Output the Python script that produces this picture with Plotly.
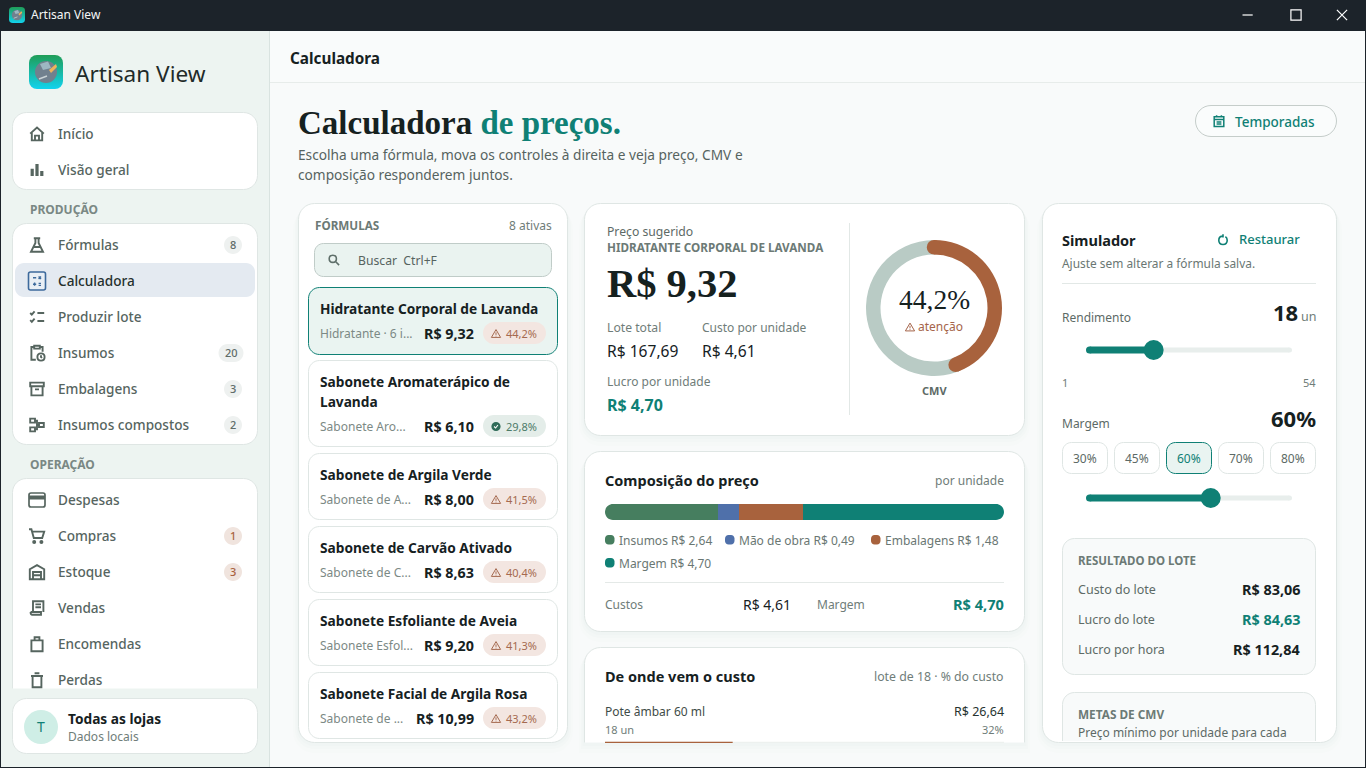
import base64, math, re
import plotly.graph_objects as go

# ---------- data ----------
cmv_value = 44.2
composition_labels = ["Insumos", "Mão de obra", "Embalagens", "Margem"]
composition_values = [2.64, 0.49, 1.48, 4.70]
composition_colors = ["#467e5f", "#4f70aa", "#a8623d", "#0f8075"]
rendimento_range = [1, 54]
rendimento_value = 18
margem_range = [0, 99]
margem_value = 60
margem_options = ["30%", "45%", "60%", "70%", "80%"]
cost_share = 32
nav_top = ["Início", "Visão geral"]
nav_producao = ["Fórmulas", "Calculadora", "Produzir lote", "Insumos", "Embalagens", "Insumos compostos"]
nav_producao_badges = ["8", "", "", "20", "3", "2"]
nav_operacao = ["Despesas", "Compras", "Estoque", "Vendas", "Encomendas", "Perdas"]
nav_operacao_badges = ["", "1", "3", "", "", ""]
formula_names = [["Hidratante Corporal de Lavanda"], ["Sabonete Aromaterápico de", "Lavanda"],
                 ["Sabonete de Argila Verde"], ["Sabonete de Carvão Ativado"],
                 ["Sabonete Esfoliante de Aveia"], ["Sabonete Facial de Argila Rosa"]]
formula_subs = ["Hidratante · 6 i...", "Sabonete Aro...", "Sabonete de A...", "Sabonete de C...", "Sabonete Esfol...", "Sabonete de ..."]
formula_prices = ["R$ 9,32", "R$ 6,10", "R$ 8,00", "R$ 8,63", "R$ 9,20", "R$ 10,99"]
formula_cmv = ["44,2%", "29,8%", "41,5%", "40,4%", "41,3%", "43,2%"]
result_labels = ["Custo do lote", "Lucro do lote", "Lucro por hora"]
result_values = ["R$ 83,06", "R$ 84,63", "R$ 112,84"]

# ---------- style ----------
W, H = 1366, 768
SANS = "Noto Sans"
SERIF = "Liberation Serif"
INK = "#16211f"
TEAL = "#0f8075"
BROWN = "#a8623d"
MUTED = "#6f7d79"
NAV = "#56655f"
BORDER = "#dfe6e4"
K = 0.552

shapes, annos = [], []


def corner(x, y, ex, ey, cx, cy):
    # cubic corner from the current point (x, y) to (ex, ey) around control corner (cx, cy)
    return (f"C{x + (cx - x) * K:.2f} {y + (cy - y) * K:.2f} {ex + (cx - ex) * K:.2f} {ey + (cy - ey) * K:.2f} {ex} {ey} ")


def rr_path(x0, y0, x1, y1, r, bottom=True):
    d = f"M{x0+r} {y0} L{x1-r} {y0} " + corner(x1 - r, y0, x1, y0 + r, x1, y0)
    if bottom:
        d += f"L{x1} {y1-r} " + corner(x1, y1 - r, x1 - r, y1, x1, y1)
        d += f"L{x0+r} {y1} " + corner(x0 + r, y1, x0, y1 - r, x0, y1)
    else:
        d += f"L{x1} {y1} L{x0} {y1} "
    d += f"L{x0} {y0+r} " + corner(x0, y0 + r, x0 + r, y0, x0, y0) + "Z"
    return d


def open_path(x0, y0, x1, y1, r):
    # outline of a box cut off at the bottom: no closing line
    return (f"M{x0} {y1} L{x0} {y0+r} " + corner(x0, y0 + r, x0 + r, y0, x0, y0) +
            f"L{x1-r} {y0} " + corner(x1 - r, y0, x1, y0 + r, x1, y0) + f"L{x1} {y1}")


def box(x0, y0, x1, y1, r=0, fill="white", line=None, lw=1, bottom=True):
    clear = "rgba(0,0,0,0)"
    if bottom or not line:
        shapes.append(dict(type="path", path=rr_path(x0, y0, x1, y1, r, bottom), xref="x", yref="y", layer="below",
                           fillcolor=fill, line=dict(color=line or clear, width=lw if line else 0)))
    else:
        shapes.append(dict(type="path", path=rr_path(x0, y0, x1, y1, r, False), xref="x", yref="y", layer="below",
                           fillcolor=fill, line=dict(color=clear, width=0)))
        shapes.append(dict(type="path", path=open_path(x0, y0, x1, y1, r), xref="x", yref="y", layer="below",
                           fillcolor=clear, line=dict(color=line, width=lw)))


def card(x0, y0, x1, y1, r=16, fill="white", bottom=True, shadow=True):
    if shadow:
        for g, a in ((10, 0.008), (6, 0.010), (3, 0.012)):
            box(x0 - g / 2, y0 + g / 2, x1 + g / 2, y1 + g, r + g / 2, f"rgba(40,70,60,{a})", bottom=bottom)
    box(x0 + .5, y0 + .5, x1 - .5, y1 - .5, r, fill, BORDER, 1, bottom)


def hline(x0, x1, y, color=BORDER, w=1):
    shapes.append(dict(type="line", x0=x0, x1=x1, y0=y, y1=y, xref="x", yref="y", layer="below", line=dict(color=color, width=w)))


def T(text, x, y, size=13, color=INK, anchor="left", weight=400, family=SANS):
    if family == SANS:
        y -= 0.7
    annos.append(dict(text=text, x=x, y=y, xref="x", yref="y", xanchor=anchor, yanchor="middle", showarrow=False,
                      borderpad=0, borderwidth=0, align=anchor,
                      font=dict(size=size, color=color, family=family, weight=weight)))


def icon(d, cx, cy, color=NAV, s=0.8, fill=None, lw=1.9):
    parts = re.findall(r"[MLQCZ]|-?\d+\.?\d*", d)
    out, xturn = [], True
    for p in parts:
        if p.isalpha():
            out.append(p)
            xturn = True
        else:
            v = float(p)
            out.append(f"{(cx + (v - 12) * s) if xturn else (cy + (v - 12) * s):.2f}")
            xturn = not xturn
    shapes.append(dict(type="path", path=" ".join(out), xref="x", yref="y", layer="below",
                       fillcolor=fill or "rgba(0,0,0,0)",
                       line=dict(color=color if lw else "rgba(0,0,0,0)", width=lw)))


def circ(cx, cy, r):
    return (f"M{cx-r} {cy} Q{cx-r} {cy-r} {cx} {cy-r} Q{cx+r} {cy-r} {cx+r} {cy} "
            f"Q{cx+r} {cy+r} {cx} {cy+r} Q{cx-r} {cy+r} {cx-r} {cy} Z ")


def disc(cx, cy, r, fill, layer="below"):
    shapes.append(dict(type="circle", x0=cx - r, x1=cx + r, y0=cy - r, y1=cy + r, xref="x", yref="y", layer=layer,
                       fillcolor=fill, line=dict(width=0)))


WARN = "M12 3.5 L22 20.5 L2 20.5 Z M12 9.5 L12 15 M12 16.8 L12 18.4"
ICONS = {
    "Início": "M3.5 11.5 L12 4 L20.5 11.5 M5.5 10 L5.5 20 L18.5 20 L18.5 10 M9.5 20 L9.5 14 L14.5 14 L14.5 20",
    "Fórmulas": "M8 3.5 L16 3.5 M10 3.5 L10 9.5 L4.5 20.5 L19.5 20.5 L14 9.5 L14 3.5 M8 14.5 L16 14.5",
    "Produzir lote": "M3.5 7 L5.5 9 L9 5 M12.5 7 L21 7 M3.5 16 L5.5 18 L9 14 M12.5 17 L21 17",
    "Insumos": "M8.5 4.5 L5 4.5 L5 20.5 L10.5 20.5 M15.5 4.5 L19 4.5 L19 10.5 M8.5 3 L15.5 3 L15.5 6.5 L8.5 6.5 Z " + circ(17, 17, 4.5) + "M17 14.8 L17 17 L18.5 18",
    "Embalagens": "M3.5 4 L20.5 4 L20.5 8.5 L3.5 8.5 Z M5 8.5 L5 20 L19 20 L19 8.5 M9.5 12.5 L14.5 12.5",
    "Insumos compostos": "M3.5 4 L9.5 4 L9.5 9 L3.5 9 Z M3.5 15 L9.5 15 L9.5 20 L3.5 20 Z M14.5 9.5 L20.5 9.5 L20.5 14.5 L14.5 14.5 Z M9.5 6.5 L12 6.5 L12 17.5 L9.5 17.5 M12 12 L14.5 12",
    "Compras": "M2 3.5 L5 3.5 L8 14.5 L18.5 14.5 L21 6.5 L6 6.5 " + circ(8.5, 19.5, 1.3) + circ(17.5, 19.5, 1.3),
    "Estoque": "M3 21 L3 8.5 L12 3.5 L21 8.5 L21 21 Z M7 21 L7 12 L17 12 L17 21 M7 16 L17 16",
    "Vendas": "M7 17 L7 3.5 L20 3.5 L20 17 M4 17 L17 17 L17 20.5 L6 20.5 Q4 20.5 4 17 M10 7.5 L17 7.5 M10 11 L17 11",
    "Encomendas": "M5 7.5 L19 7.5 L19 21 L5 21 Z M9 7.5 L9 3.5 L15 3.5 L15 7.5",
    "Perdas": "M6.5 7.5 L6.5 21 L17.5 21 L17.5 7.5 M4.5 7 L19.5 7 M9 3.5 L15 3.5",
}

# ---------- window chrome ----------
box(0, 0, W, 31, 0, "#1c232a")
box(0, 31, 270, H, 0, "#edf4f1")
box(270, 31, W, 82, 0, "#f9fbfb")
hline(270, W, 82.5, "#e7ecea")
shapes.append(dict(type="line", x0=269.5, x1=269.5, y0=31, y1=H, xref="x", yref="y", layer="below", line=dict(color="#d9e3e0", width=1)))
for a in [dict(x0=0, x1=1, y0=0, y1=H), dict(x0=W - 1, x1=W, y0=0, y1=H), dict(x0=0, x1=W, y0=H - 1, y1=H)]:
    shapes.append(dict(type="rect", xref="x", yref="y", layer="above", fillcolor="#1c232a", line=dict(width=0), **a))

T("Artisan View", 31, 15.5, 12, "#f4f6f6")
icon("M2 12 L14 12", 1251, 15, "#ffffff", 0.85, lw=1.2)
icon("M6 6 L18 6 L18 18 L6 18 Z", 1296, 15, "#ffffff", 0.85, lw=1.2)
icon("M6 6 L18 18 M18 6 L6 18", 1342, 15, "#ffffff", 0.85, lw=1.2)

# ---------- sidebar ----------
T("Artisan View", 75, 74, 22.6, "#1f2b29")
card(12, 112, 258, 190, 14, shadow=False)
for label, y in zip(nav_top, [134, 170]):
    T(label, 58, y, 13.6, NAV, weight=500)
icon(ICONS["Início"], 37, 134)
icon("M4 11 L8 11 L8 20 L4 20 Z M10 5 L14 5 L14 20 L10 20 Z M16 14 L20 14 L20 20 L16 20 Z", 37, 169.5, NAV, fill=NAV, lw=0)
T("PRODUÇÃO", 30, 210, 12, "#7a8884", weight=700)
card(12, 223, 258, 445, 14, shadow=False)
box(15, 263, 255, 297, 9, "#e4eaf1")
for i, (label, badge) in enumerate(zip(nav_producao, nav_producao_badges)):
    y = 245 + 36 * i
    T(label, 58, y, 13.6, "#24302d" if label == "Calculadora" else NAV, weight=500)
    if label in ICONS:
        icon(ICONS[label], 37, y)
    if badge:
        wide = len(badge) > 1
        half = 12.5 if wide else 9
        off = 2 if wide else 0
        box(233 - half - off, y - 9, 233 + half - off, y + 9, 9, "#eef1f0")
        T(badge, 233 - off, y, 11, "#5e6c68", "center", 500)
box(28.5, 272, 45.5, 290, 2, "#e9eff5", "#3d6a9c", 1.6)
icon("M7 8 L11 8 M14 6.5 L17 9.5 M17 6.5 L14 9.5 M7 16 L11 16 M9 14 L9 18 M14 15 L17 15 M14 17.5 L17 17.5", 37, 281, "#3d6a9c", 0.8, lw=1.4)
T("OPERAÇÃO", 30, 465, 12, "#7a8884", weight=700)
card(12, 478, 258, 689, 14, bottom=False, shadow=False)
for i, (label, badge) in enumerate(zip(nav_operacao, nav_operacao_badges)):
    y = 500 + 36 * i
    T(label, 58, y, 13.6, NAV, weight=500)
    if label in ICONS:
        icon(ICONS[label], 37, y)
    if badge:
        box(224, y - 9, 242, y + 9, 9, "#f0e4de")
        T(badge, 233, y, 11, BROWN, "center", 500)
box(29, 493, 45, 507, 2, "rgba(0,0,0,0)", NAV, 1.7)
box(29, 495.5, 45, 499.5, 0, NAV)
card(12, 698, 258, 754, 14, shadow=False)
disc(41, 727, 17, "#cfeee6")
T("T", 41, 727.5, 14, TEAL, "center")
T("Todas as lojas", 68, 719, 13.7, INK, weight=700)
T("Dados locais", 68, 737, 12, MUTED)

# ---------- header ----------
T("Calculadora", 290, 58.5, 15.3, INK, weight=700)
T(f"Calculadora <span style='color:{TEAL}'>de preços.</span>", 298, 123, 33, INK, weight=700, family=SERIF)
T("Escolha uma fórmula, mova os controles à direita e veja preço, CMV e", 298, 155, 13.7, "#56635f")
T("composição responderem juntos.", 298, 175, 13.7, "#56635f")
box(1195.5, 105.5, 1336.5, 136.5, 15.5, "#fafcfc", "#c5cdca", 1)
icon("M4 5 L20 5 L20 21 L4 21 Z M4 9.5 L20 9.5 M8 2.5 L8 6 M16 2.5 L16 6 M8 13.5 L16 13.5 M8 17 L16 17", 1219, 121, TEAL, 0.6, lw=1.5)
T("Temporadas", 1235, 122.7, 13.5, TEAL, weight=500)

# ---------- formula list ----------
card(298, 203, 568, 743)
T("FÓRMULAS", 315, 226, 11.7, "#6c7a76", weight=700)
T("8 ativas", 552, 226, 12, MUTED, "right")
box(314.5, 243.5, 551.5, 276.5, 9, "#eaf3f0", "#c0ccc8", 1)
icon(circ(10, 10, 6) + "M14.5 14.5 L20.5 20.5", 334, 260, "#5f6f6a", 0.6, lw=1.6)
T("Buscar  Ctrl+F", 358, 261, 12.2, "#56635f")
tops = [287, 360, 453, 526, 599, 672]
bottoms = [355, 447, 520, 593, 666, 739]
pill_y = [333, 426, 499, 572, 645, 718]
for i, (names, sub, price, cmv) in enumerate(zip(formula_names, formula_subs, formula_prices, formula_cmv)):
    t, b = tops[i], bottoms[i]
    sel = i == 0
    box(308.5, t + .5, 557.5, b - .5, 11, "#eaf4f1" if sel else "white", TEAL if sel else BORDER, 1)
    for k, nm in enumerate(names):
        T(nm, 320, t + 22 + 20 * k, 13.7, INK, weight=700)
    sy = pill_y[i]
    T(sub, 320, sy + 1, 12, "#7c8985")
    T(price, 474, sy + 1, 14.3, INK, "right", 700)
    ok = float(cmv.replace(",", ".").rstrip("%")) < 35
    box(483, sy - 11, 546, sy + 11, 11, "#e4ede9" if ok else "#f3e6e1")
    if ok:
        disc(496, sy + .5, 4.6, "#2f6b58")
        icon("M7 12 L11 16 L17 8", 496, sy + .5, "white", 0.38, lw=1.1)
    else:
        icon(WARN, 496, sy + .5, "#a56a50", 0.46, lw=1)
    T(cmv, 506, sy + 1.2, 11, "#4d7a68" if ok else "#a56a50")

# ---------- price card ----------
card(584, 203, 1025, 436)
T("Preço sugerido", 607, 232, 12.2, "#5d6a66")
T("HIDRATANTE CORPORAL DE LAVANDA", 607, 248, 11.7, "#6c7a76", weight=700)
T("R$ 9,32", 607, 283, 40.5, INK, weight=700, family=SERIF)
T("Lote total", 607, 328, 12.2, MUTED)
T("Custo por unidade", 702, 328, 12, MUTED)
T("R$ 167,69", 607, 351.7, 15.6, INK)
T("R$ 4,61", 702, 351.7, 15.6, INK)
T("Lucro por unidade", 607, 382, 12, MUTED)
T("R$ 4,70", 607, 405.7, 16, TEAL, weight=700)
shapes.append(dict(type="line", x0=849.5, x1=849.5, y0=223, y1=415, xref="x", yref="y", layer="below", line=dict(color="#e2e8e6", width=1)))
T("44,2%", 934, 299.4, 27.5, INK, "center", family=SERIF)
icon(WARN, 910, 327, "#a5644a", 0.46, lw=1)
T("atenção", 918, 327.5, 12, "#a5644a")
T("CMV", 934, 391, 11, "#5d6a66", "center", 700)

DCX, DCY, DR, DI = 934, 308, 68, 53.5
for ang in (0, cmv_value * 3.6):
    rad = math.radians(ang)
    rm = (DR + DI) / 2
    disc(DCX + rm * math.sin(rad), DCY - rm * math.cos(rad), (DR - DI) / 2, BROWN, "above")

# ---------- composition card ----------
card(584, 451, 1025, 632)
T("Composição do preço", 605, 481, 14.5, INK, weight=700)
T("por unidade", 1004, 481, 12, MUTED, "right")
dot_pos = [(610, 540), (730, 540), (876, 540), (610, 563)]
for lab, val, col, (dx, dy) in zip(composition_labels, composition_values, composition_colors, dot_pos):
    box(dx - 5, dy - 5, dx + 4.5, dy + 4.5, 3.5, col)
    T(f"{lab} R$ {val:.2f}".replace(".", ","), dx + 9, dy + 1, 12, "#6a7773")
# white corner pieces round off the composition bar
for x, xi, y, yi in ((605, 613, 504, 512), (1004, 996, 504, 512), (605, 613, 520, 512), (1004, 996, 520, 512)):
    shapes.append(dict(type="path", xref="x", yref="y", layer="above", fillcolor="white", line=dict(width=0),
                       path=f"M{x} {y} L{xi} {y} " + corner(xi, y, x, yi, x, y) + "Z"))
hline(605, 1004, 582.5, "#e4e9e7")
T("Custos", 605, 605, 12, MUTED)
T("R$ 4,61", 791, 605, 14, INK, "right")
T("Margem", 817, 605, 12, MUTED)
T("R$ 4,70", 1004, 605, 14.6, TEAL, "right", 700)

# ---------- cost card ----------
card(584, 647, 1025, 743, bottom=False)
T("De onde vem o custo", 605, 677, 14.5, INK, weight=700)
T("lote de 18 · % do custo", 1004, 677, 12.3, MUTED, "right")
T("Pote âmbar 60 ml", 605, 712, 12, "#3f4c48")
T("R$ 26,64", 1004, 712, 12.5, "#26332f", "right")
T("18 un", 605, 730.5, 11, MUTED)
T("32%", 1004, 730.5, 11, MUTED, "right")

# ---------- simulator ----------
card(1042, 203, 1337, 743)
T("Simulador", 1062, 241, 14.5, INK, weight=700)
icon("M12 5.5 Q5 5.5 5 12.5 Q5 19.5 12 19.5 Q19 19.5 19 12.5 Q19 8.5 16 6.5 M12 2.5 L12 8", 1223, 240, TEAL, 0.6, lw=1.6)
T("Restaurar", 1239, 240, 13, TEAL, weight=500)
T("Ajuste sem alterar a fórmula salva.", 1062, 264, 11.9, "#6a7773")
hline(1062, 1316, 283.5, "#e2e8e6")
T("Rendimento", 1062, 317.7, 12, "#5d6a66")
T(str(rendimento_value), 1298, 313, 22, INK, "right", 700)
T("un", 1316, 317, 12.5, MUTED, "right")
T(str(rendimento_range[0]), 1062, 383, 11, MUTED)
T(str(rendimento_range[1]), 1316, 383, 11, MUTED, "right")
T("Margem", 1062, 423.7, 12, "#5d6a66")
T(f"{margem_value}%", 1316, 419, 22, INK, "right", 700)
for i, opt in enumerate(margem_options):
    x0 = 1062 + 52 * i
    sel = opt == f"{margem_value}%"
    box(x0 + .5, 442.5, x0 + 45.5, 473.5, 9, "#e9f4f1" if sel else "white", TEAL if sel else BORDER, 1)
    T(opt, x0 + 23, 459.2, 12, TEAL if sel else "#5d6a66", "center")
box(1062.5, 538.5, 1315.5, 674.5, 12, "#f8fafa", BORDER, 1)
T("RESULTADO DO LOTE", 1078, 561, 11.5, "#6c7a76", weight=700)
for i, (lab, val) in enumerate(zip(result_labels, result_values)):
    y = 590 + 30 * i
    T(lab, 1078, y, 12.5, "#5d6a66")
    T(val, 1300, y, 14.4, TEAL if i == 1 else INK, "right", 700)
box(1062.5, 692.5, 1315.5, 741, 12, "#f8fafa", BORDER, 1, bottom=False)
T("METAS DE CMV", 1078, 715, 11.8, "#6c7a76", weight=700)
T("Preço mínimo por unidade para cada", 1078, 733, 12, "#5d6a66")


# ---------- axes and traces ----------
def dom_x(a, b):
    return [a / W, b / W]


def dom_y(a, b):
    return [1 - b / H, 1 - a / H]


def hidden(**k):
    return dict(visible=False, fixedrange=True, showgrid=False, zeroline=False, **k)


fig = go.Figure()
# pixel-space canvas holding the chrome, cards and labels
fig.add_trace(go.Scatter(x=[0], y=[0], mode="markers", marker=dict(opacity=0), showlegend=False, hoverinfo="skip"))

# stacked composition bar
for lab, val, col in zip(composition_labels, composition_values, composition_colors):
    fig.add_trace(go.Bar(x=[val], y=[0], orientation="h", width=1, name=lab, marker=dict(color=col, line=dict(width=0)),
                         xaxis="x2", yaxis="y2", showlegend=False))


def slider(rng, val, xa, ya):
    fig.add_trace(go.Scatter(x=rng, y=[0, 0], mode="lines+markers", line=dict(color="#e8eeec", width=5),
                             marker=dict(color="#e8eeec", size=5, opacity=1), xaxis=xa, yaxis=ya, showlegend=False, cliponaxis=False))
    fig.add_trace(go.Scatter(x=[rng[0], val], y=[0, 0], mode="lines+markers", line=dict(color=TEAL, width=7),
                             marker=dict(color=TEAL, size=[7, 20], opacity=1, line=dict(width=0)), xaxis=xa, yaxis=ya,
                             showlegend=False, cliponaxis=False))


slider(rendimento_range, rendimento_value, "x3", "y3")
slider(margem_range, margem_value, "x4", "y4")

# cut-off progress bar of the first cost row
fig.add_trace(go.Scatter(x=[0, 100], y=[0, 0], mode="lines", line=dict(color="#edf1ef", width=1.3), xaxis="x5", yaxis="y5",
                         showlegend=False, cliponaxis=False))
fig.add_trace(go.Scatter(x=[0, cost_share], y=[0, 0], mode="lines", line=dict(color=BROWN, width=1.3), xaxis="x5", yaxis="y5",
                         showlegend=False, cliponaxis=False))

# CMV donut
fig.add_trace(go.Pie(values=[cmv_value, 100 - cmv_value], labels=["CMV", "Restante"], sort=False, direction="clockwise", rotation=0,
                     hole=DI / DR, textinfo="none", showlegend=False, marker=dict(colors=[BROWN, "#b9cbc5"], line=dict(width=0)),
                     domain=dict(x=dom_x(DCX - DR, DCX + DR), y=dom_y(DCY - DR, DCY + DR))))


def logo(size_id):
    svg = f"""<svg xmlns='http://www.w3.org/2000/svg' width='{size_id}' height='{size_id}' viewBox='0 0 34 34'>
<defs><linearGradient id='g' x1='0' y1='0' x2='0' y2='1'><stop offset='0' stop-color='#1f9d57'/><stop offset='1' stop-color='#12d3ee'/></linearGradient></defs>
<rect width='34' height='34' rx='8' fill='url(#g)'/><circle cx='17' cy='17' r='11' fill='#71808e'/>
<path d='M11 9 L19 6.5 L22 13 L14 15 Z' fill='#9db7c2'/><path d='M20 15 L27 9 L28 12 L22 18 Z' fill='#eeb35c'/><path d='M10 24 L18 21' stroke='#c9d2d6' stroke-width='1.6'/></svg>"""
    return "data:image/svg+xml;base64," + base64.b64encode(svg.encode()).decode()


images = [dict(source=logo(34), xref="x", yref="y", x=29, y=55, sizex=34, sizey=34, xanchor="left", yanchor="top", layer="below", sizing="stretch"),
          dict(source=logo(16), xref="x", yref="y", x=9, y=7, sizex=16, sizey=16, xanchor="left", yanchor="top", layer="above", sizing="stretch")]

fig.update_layout(
    width=W, height=H, margin=dict(l=0, r=0, t=0, b=0, pad=0, autoexpand=False),
    paper_bgcolor="#f8fafa", plot_bgcolor="rgba(0,0,0,0)", barmode="stack", bargap=0,
    hovermode=False, showlegend=False, shapes=shapes, annotations=annos, images=images, dragmode=False,
    xaxis=hidden(domain=[0, 1], range=[0, W]),
    yaxis=hidden(domain=[0, 1], range=[H, 0]),
    xaxis2=hidden(domain=dom_x(605, 1004), range=[0, sum(composition_values)], anchor="y2"),
    yaxis2=hidden(domain=dom_y(504, 520), range=[-0.5, 0.5], anchor="x2"),
    xaxis3=hidden(domain=dom_x(1089.5, 1289.5), range=rendimento_range, anchor="y3"),
    yaxis3=hidden(domain=dom_y(340, 360), range=[-1, 1], anchor="x3"),
    xaxis4=hidden(domain=dom_x(1089.5, 1289.5), range=margem_range, anchor="y4"),
    yaxis4=hidden(domain=dom_y(488, 508), range=[-1, 1], anchor="x4"),
    xaxis5=hidden(domain=dom_x(605, 1004), range=[0, 100], anchor="y5"),
    yaxis5=hidden(domain=dom_y(740, 744.6), range=[-1, 1], anchor="x5"),
)

fig.write_html("out.html", config=dict(displayModeBar=False, responsive=False),
               post_script="document.body.style.margin='0';document.documentElement.style.overflow='hidden';")
